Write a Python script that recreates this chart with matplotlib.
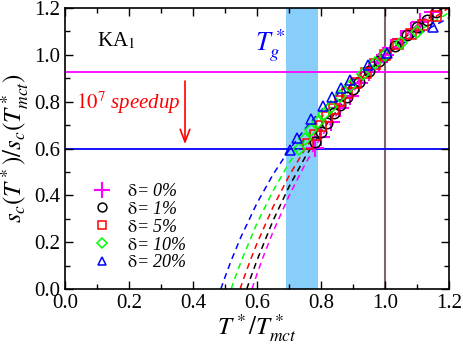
import matplotlib
matplotlib.use("Agg")
import matplotlib.pyplot as plt
from matplotlib.ticker import MultipleLocator

plt.rcParams["font.family"] = ["Liberation Serif", "DejaVu Serif"]
plt.rcParams["mathtext.fontset"] = "stix"

# Data points (T*/T*mct, s_c(T*)/s_c(T*mct))
labels = ["0%", "1%", "5%", "10%", "20%"]
colors = ["#ff00ff", "#000000", "#ff0000", "#00ff00", "#0000ff"]
markers = ["+", "o", "s", "D", "^"]

x_d0 = [0.78, 0.80, 0.83, 0.86, 0.89, 0.92, 0.95, 0.98, 1.00, 1.02, 1.05, 1.08, 1.11, 1.15]
y_d0 = [0.604, 0.649, 0.712, 0.771, 0.826, 0.878, 0.926, 0.971, 1.0, 1.028, 1.067, 1.104, 1.139, 1.183]
x_d1 = [0.78, 0.80, 0.82, 0.84, 0.86, 0.88, 0.90, 0.92, 0.95, 0.98, 1.00, 1.03, 1.07, 1.10, 1.13, 1.16]
y_d1 = [0.629, 0.671, 0.711, 0.750, 0.786, 0.821, 0.854, 0.886, 0.931, 0.973, 1.0, 1.038, 1.086, 1.119, 1.151, 1.181]
x_d5 = [0.76, 0.78, 0.80, 0.82, 0.84, 0.86, 0.88, 0.91, 0.94, 0.97, 1.00, 1.04, 1.08, 1.12, 1.16]
y_d5 = [0.62, 0.659, 0.698, 0.735, 0.770, 0.803, 0.835, 0.880, 0.922, 0.963, 1.0, 1.046, 1.089, 1.129, 1.166]
x_d10 = [0.73, 0.75, 0.77, 0.79, 0.81, 0.83, 0.86, 0.89, 0.93, 0.97, 1.00, 1.05, 1.10]
y_d10 = [0.60, 0.640, 0.678, 0.713, 0.747, 0.779, 0.824, 0.867, 0.919, 0.967, 1.0, 1.051, 1.098]
x_d20 = [0.703, 0.724, 0.768, 0.805, 0.833, 0.861, 0.891, 0.948, 1.005, 1.151]
y_d20 = [0.594, 0.645, 0.726, 0.782, 0.822, 0.857, 0.893, 0.957, 1.007, 1.118]

# Fitted curves (dashed)
fx_d0 = [0.584, 0.60, 0.62, 0.65, 0.70, 0.75, 0.80, 0.90, 1.00, 1.10, 1.20]
fy_d0 = [0.0, 0.064, 0.140, 0.244, 0.398, 0.532, 0.649, 0.844, 1.0, 1.128, 1.234]
fx_d1 = [0.568, 0.58, 0.60, 0.65, 0.70, 0.75, 0.80, 0.90, 1.00, 1.10, 1.20]
fy_d1 = [0.0, 0.048, 0.123, 0.292, 0.437, 0.562, 0.671, 0.854, 1.0, 1.119, 1.219]
fx_d5 = [0.547, 0.56, 0.58, 0.60, 0.65, 0.70, 0.75, 0.80, 0.90, 1.00, 1.10, 1.20]
fy_d5 = [0.0, 0.051, 0.126, 0.195, 0.350, 0.483, 0.598, 0.698, 0.866, 1.0, 1.110, 1.201]
fx_d10 = [0.519, 0.53, 0.55, 0.60, 0.65, 0.70, 0.75, 0.80, 0.90, 1.00, 1.10, 1.20]
fy_d10 = [0.0, 0.043, 0.117, 0.281, 0.419, 0.538, 0.640, 0.730, 0.880, 1.0, 1.098, 1.180]
fx_d20 = [0.487, 0.50, 0.52, 0.55, 0.60, 0.65, 0.70, 0.75, 0.80, 0.90, 1.00, 1.10, 1.20]
fy_d20 = [0.0, 0.051, 0.124, 0.223, 0.367, 0.489, 0.593, 0.684, 0.763, 0.895, 1.0, 1.086, 1.158]

xs = [x_d0, x_d1, x_d5, x_d10, x_d20]
ys = [y_d0, y_d1, y_d5, y_d10, y_d20]
fxs = [fx_d0, fx_d1, fx_d5, fx_d10, fx_d20]
fys = [fy_d0, fy_d1, fy_d5, fy_d10, fy_d20]

TG_BAND = (0.69, 0.79)
Y_SPEEDUP = 0.927
Y_TG = 0.6

fig = plt.figure(figsize=(4.63, 3.46), dpi=100)
ax = fig.add_axes([0.1404, 0.1647, 0.8294, 0.8121])

ax.axvspan(TG_BAND[0], TG_BAND[1], color="#87cefa", lw=0, zorder=0)
ax.axvline(1.0, color="#7a6868", lw=1.5, zorder=1)
ax.axhline(Y_SPEEDUP, color="#ff00ff", lw=1.3, zorder=1)
ax.axhline(Y_TG, color="#0000ff", lw=1.3, zorder=1)

# fits
for fx, fy, c in zip(fxs[::-1], fys[::-1], colors[::-1]):
    ax.plot(fx, fy, ls=(0, (4, 3)), color=c, lw=1.1, zorder=2)

# data
for x, y, c, m, lab in zip(xs, ys, colors, markers, labels):
    name = "$\\mathrm{\\delta}$= " + lab
    if m == "+":
        ax.plot(x, y, ls="none", marker=m, ms=13, mew=1.5, color=c, zorder=3, label=name)
    else:
        ax.plot(x, y, ls="none", marker=m, ms=7.5 if m != "D" else 6.5, mfc="none",
                mec=c, mew=1.1, zorder=3, label=name)

ax.annotate("", xy=(0.375, 0.607), xytext=(0.375, 0.90),
            arrowprops=dict(arrowstyle="->,head_length=0.9,head_width=0.35",
                            color="#ff0000", lw=1.2))
ax.text(0.035, 0.795, "$\\mathit{10^7}$ speedup", color="#ff0000", fontsize=15,
        style="italic", va="center", ha="left")
ax.text(0.1, 1.06, "KA$_1$", fontsize=15, va="center", ha="left")
ax.text(0.595, 1.04, "$T^*_g$", fontsize=19, color="#0000ff", va="center", ha="left")

ax.set_xlim(0, 1.2)
ax.set_ylim(0, 1.2)
ax.xaxis.set_major_locator(MultipleLocator(0.2))
ax.xaxis.set_minor_locator(MultipleLocator(0.1))
ax.yaxis.set_major_locator(MultipleLocator(0.2))
ax.yaxis.set_minor_locator(MultipleLocator(0.1))
ax.xaxis.set_major_formatter(plt.FuncFormatter(lambda v, p: f"{v:.1f}"))
ax.yaxis.set_major_formatter(plt.FuncFormatter(lambda v, p: f"{v:.1f}"))
ax.tick_params(which="both", direction="in", top=True, right=True, labelsize=15, width=1)
ax.tick_params(which="major", length=6)
ax.tick_params(which="minor", length=3.5)
for s in ax.spines.values():
    s.set_linewidth(1.2)

ax.set_xlabel("$T^*/T^*_{mct}$", fontsize=18, labelpad=0)
ax.set_ylabel("$s_c(T^*)/s_c(T^*_{mct})$", fontsize=18, labelpad=2)

ax.legend(loc="upper left", bbox_to_anchor=(0.045, 0.41), frameon=False,
          prop=dict(size=13, style="italic"), handlelength=1.2, handletextpad=0.8,
          labelspacing=0.05, borderpad=0, markerscale=0.85)

fig.savefig("out.png", dpi=100)
